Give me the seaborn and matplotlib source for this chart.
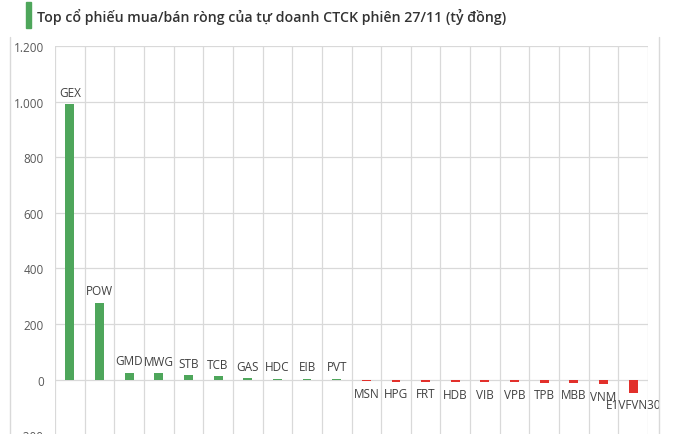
import numpy as np
import matplotlib.pyplot as plt
import seaborn as sns
from matplotlib.ticker import FuncFormatter

# data (ty dong)
tickers = ['GEX', 'POW', 'GMD', 'MWG', 'STB', 'TCB', 'GAS', 'HDC', 'EIB', 'PVT',
           'MSN', 'HPG', 'FRT', 'HDB', 'VIB', 'VPB', 'TPB', 'MBB', 'VNM', 'E1VFVN30']
values = [991, 277, 25, 23, 15, 11, 5, 3, 3, 3,
          -6, -8, -8, -10, -10, -10, -12, -12, -17, -47]
title = 'Top cổ phiếu mua/bán ròng của tự doanh CTCK phiên 27/11 (tỷ đồng)'

green = '#4EA65B'
red = '#E2302B'
grid_c = '#D9D9D9'
txt_c = '#404040'

sns.set_style('white')
plt.rcParams['font.family'] = ['Open Sans', 'DejaVu Sans']

fig = plt.figure(figsize=(6.9, 4.35), dpi=100)
ax = fig.add_axes([55 / 690, -0.0025, (648 - 55) / 690, 0.8945])

sign = ['pos' if v >= 0 else 'neg' for v in values]
sns.barplot(x=tickers, y=values, hue=sign, palette={'pos': green, 'neg': red},
            width=0.3, legend=False, ax=ax, saturation=1, linewidth=0)

ax.set_ylim(-200, 1200)
ax.set_xlim(-0.5, len(tickers) - 0.5)
ax.set_yticks(np.arange(-200, 1201, 200))
ax.yaxis.set_major_formatter(FuncFormatter(lambda v, p: f'{int(v):,}'.replace(',', '.')))
ax.tick_params(axis='y', length=0, labelsize=8.5, labelcolor='#595959', pad=8)
ax.set_xticks([])
ax.set_xticks(np.arange(-0.5, len(tickers)), minor=True)
ax.tick_params(axis='x', which='minor', length=0)
ax.grid(True, axis='y', color=grid_c, linewidth=0.9)
ax.grid(True, axis='x', which='minor', color=grid_c, linewidth=0.9)
ax.set_axisbelow(True)
for s in ax.spines.values():
    s.set_visible(False)

# data labels = ticker names
for i, (t, v) in enumerate(zip(tickers, values)):
    if v >= 0:
        ax.annotate(t, (i, v), xytext=(0, 4), textcoords='offset points',
                    ha='center', va='bottom', fontsize=8.5, color=txt_c)
    else:
        ax.annotate(t, (i, v), xytext=(0, -4), textcoords='offset points',
                    ha='center', va='top', fontsize=8.5, color=txt_c)

# title with green marker
fig.patches.append(plt.Rectangle((26 / 690, 1 - 29 / 435), 5 / 690, 26 / 435,
                                 transform=fig.transFigure, color=green, figure=fig))
fig.text(37 / 690, 1 - 17 / 435, title, fontsize=10.2, fontweight='semibold',
         color='#333333', va='center', ha='left')

# outer chart border
fig.add_artist(plt.Line2D([10 / 690, 10 / 690], [0, 1 - 38 / 435], color=grid_c,
                          transform=fig.transFigure, linewidth=1))
fig.add_artist(plt.Line2D([659 / 690, 659 / 690], [0, 1 - 38 / 435], color=grid_c,
                          transform=fig.transFigure, linewidth=1))

plt.savefig('out.png', dpi=100)
